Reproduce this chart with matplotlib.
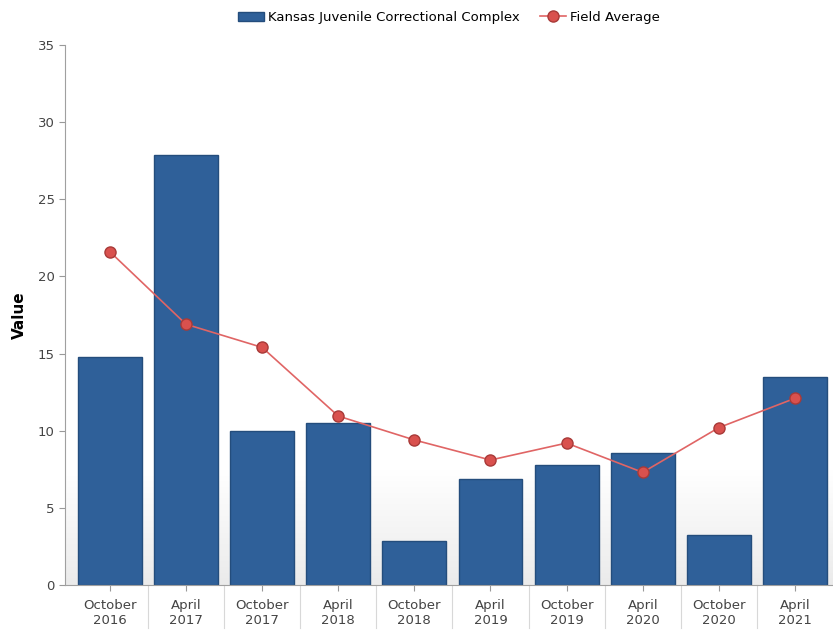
import numpy as np
import matplotlib.pyplot as plt
import matplotlib.transforms as mtransforms
from matplotlib.colors import LinearSegmentedColormap

periods = ["October\n2016", "April\n2017", "October\n2017", "April\n2018", "October\n2018",
           "April\n2019", "October\n2019", "April\n2020", "October\n2020", "April\n2021"]
facility = [14.8, 27.9, 10.0, 10.5, 2.85, 6.85, 7.8, 8.55, 3.25, 13.5]
field_avg = [21.6, 16.9, 15.4, 10.95, 9.4, 8.1, 9.2, 7.3, 10.2, 12.1]

plt.rcParams['font.family'] = ['DejaVu Sans']
fig = plt.figure(figsize=(8.33, 6.31), dpi=100)
ax = fig.add_axes([0.078, 0.0729, 0.922, 0.8558])

x = np.arange(len(periods))
ax.set_xlim(-0.59, len(periods) - 0.5)
ax.set_ylim(0, 35)

# faint grey fade at the bottom of the plot area
grad = np.linspace(0, 1, 100).reshape(-1, 1)
ax.imshow(grad, cmap=LinearSegmentedColormap.from_list('fade', ['#ebebeb', '#ffffff']),
          extent=[-0.59, len(periods) - 0.5, 0, 7.5],
          origin='lower', aspect='auto', zorder=0)

bars = ax.bar(x, facility, width=0.84, color='#2f6099', edgecolor='#244d7c', linewidth=1.0,
              zorder=2, label='Kansas Juvenile Correctional Complex')
line, = ax.plot(x, field_avg, color='#e06565', linewidth=1.2, marker='o', markersize=8,
                markerfacecolor='#d9514e', markeredgecolor='#a83a38', markeredgewidth=1.0,
                zorder=3, label='Field Average')

ax.set_yticks(range(0, 36, 5))
ax.set_xticks(x)
ax.set_xticklabels(periods)
ax.tick_params(axis='both', colors='#999999', labelcolor='#444444', labelsize=9.5, length=4)
ax.tick_params(axis='x', pad=6)

for side in ['top', 'right']:
    ax.spines[side].set_visible(False)
ax.spines['left'].set_color('#a0a0a0')
ax.spines['bottom'].set_color('#a0a0a0')

# separators between category labels
trans = mtransforms.blended_transform_factory(ax.transData, ax.transAxes)
for i in range(len(periods) - 1):
    ax.plot([i + 0.5, i + 0.5], [0, -0.08], transform=trans, color='#d8d8d8',
            linewidth=0.8, clip_on=False)

ax.set_ylabel('Value', fontsize=11, fontweight='bold', labelpad=8)

ax.legend(handles=[bars, line], loc='upper center', bbox_to_anchor=(0.5, 1.085), ncol=2,
          frameon=False, fontsize=9.5, handlelength=2.0, columnspacing=1.5,
          handletextpad=0.3)

fig.savefig('out.png', dpi=100)
